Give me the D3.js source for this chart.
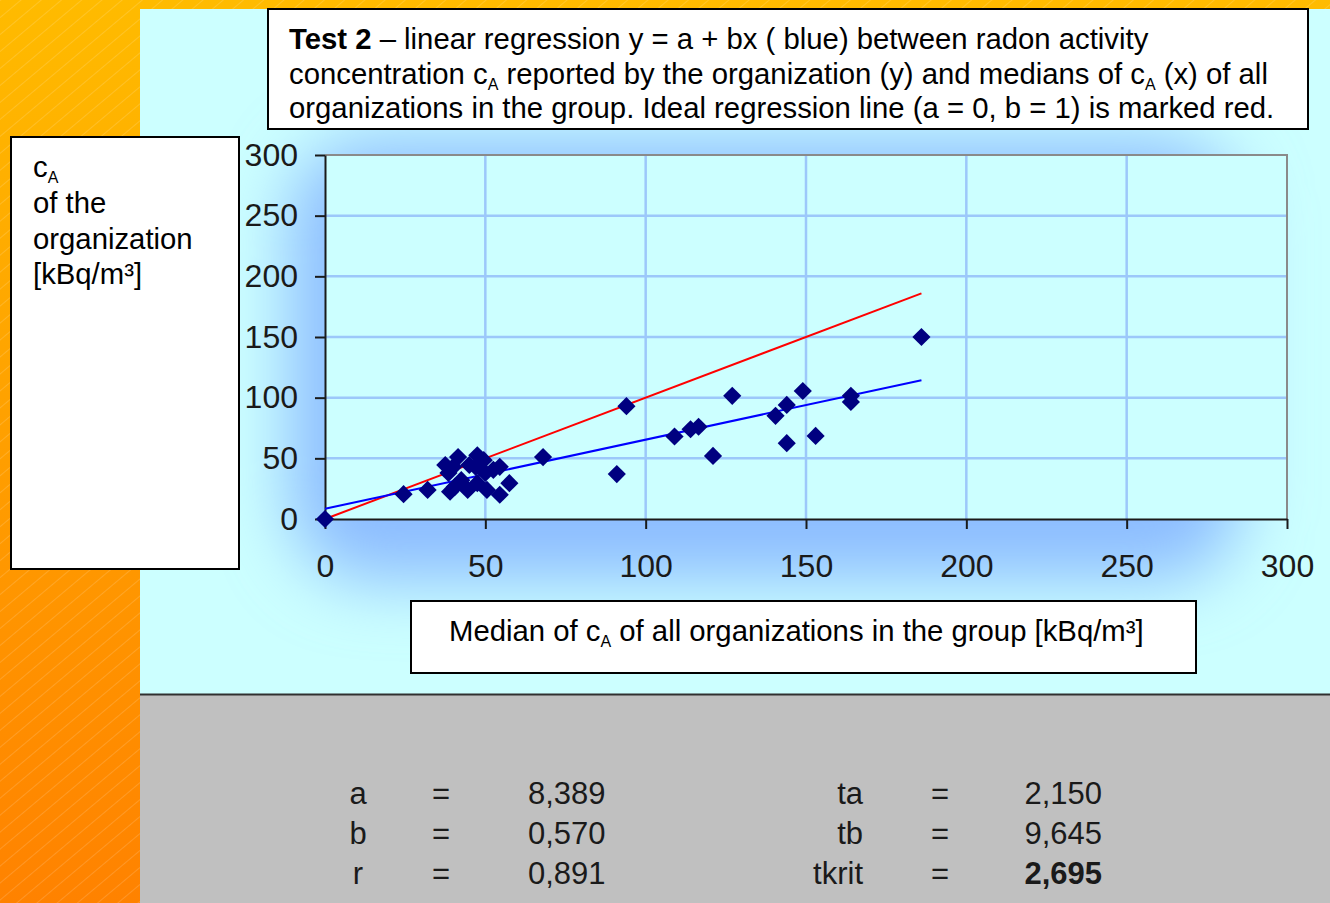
<!DOCTYPE html>
<html>
<head>
<meta charset="utf-8">
<script src="https://cdn.jsdelivr.net/npm/d3@7"></script>
<style>
body { margin: 0; overflow: hidden; background: #fff; }
text { font-family: "Liberation Sans", Arial, sans-serif; }
</style>
</head>
<body>
<script>
// medians of cA of all organizations (x) and cA of the organization (y)
var xValues = [0, 24.5, 32, 39, 37.5, 38.5, 40, 40.5, 41.5, 42.5, 44.5, 45, 47, 47.5, 47.5, 49.5,
    50, 50.5, 52.5, 54.5, 54.5, 57.5, 68, 91, 94, 109, 114, 116.5, 121, 127, 140.5, 144, 144,
    149, 153, 164, 164, 186];
var yValues = [0, 20.5, 24, 22.5, 44.5, 38, 43, 26.5, 51, 32, 24, 44.5, 43, 52.5, 29.5, 48.5,
    38, 24, 40.5, 43, 20, 29.5, 51, 37, 93, 68, 74, 76, 52, 101.5, 85, 94, 62.5,
    105.5, 68.5, 101.5, 96.5, 150];

var axisTicks = [0, 50, 100, 150, 200, 250, 300];

// regression y = a + bx
var regA = 8.389;
var regB = 0.570;

var statLeftNames = ['a', 'b', 'r'];
var statLeftValues = ['8,389', '0,570', '0,891'];
var statRightNames = ['ta', 'tb', 'tkrit'];
var statRightValues = ['2,150', '9,645', '2,695'];

function drawChart() {
    var width = 1330;
    var height = 903;
    var plot = {left: 325, top: 155, right: 1287, bottom: 519};

    var svg = d3.select('body').append('svg')
        .attr('width', width)
        .attr('height', height);

    var defs = svg.append('defs');

    var orange = defs.append('linearGradient')
        .attr('id', 'orange')
        .attr('x1', 0).attr('y1', 0).attr('x2', 0).attr('y2', 1);
    orange.append('stop').attr('offset', '0%').attr('stop-color', '#ffbb00');
    orange.append('stop').attr('offset', '100%').attr('stop-color', '#ff8200');

    var stripes = defs.append('pattern')
        .attr('id', 'stripes')
        .attr('patternUnits', 'userSpaceOnUse')
        .attr('width', 13).attr('height', 13)
        .attr('patternTransform', 'rotate(50)');
    stripes.append('line')
        .attr('x1', 0).attr('y1', 0).attr('x2', 0).attr('y2', 13)
        .attr('stroke', '#ffffff')
        .attr('stroke-opacity', 0.3)
        .attr('stroke-width', 1);

    defs.append('filter')
        .attr('id', 'glow')
        .attr('x', '-40%').attr('y', '-40%').attr('width', '180%').attr('height', '180%')
        .append('feGaussianBlur')
        .attr('stdDeviation', 34);

    defs.append('clipPath')
        .attr('id', 'panel')
        .append('rect')
        .attr('x', 140).attr('y', 9).attr('width', width - 140).attr('height', 685);

    // slide background
    svg.append('rect').attr('width', width).attr('height', height).attr('fill', 'url(#orange)');
    svg.append('rect').attr('width', width).attr('height', height).attr('fill', 'url(#stripes)');

    var panel = svg.append('g').attr('clip-path', 'url(#panel)');
    panel.append('rect')
        .attr('x', 140).attr('y', 9).attr('width', width - 140).attr('height', 685)
        .attr('fill', '#ccffff');
    panel.append('rect')
        .attr('x', 290).attr('y', 140)
        .attr('width', 950).attr('height', 440)
        .attr('rx', 80)
        .attr('fill', '#8cbcff')
        .attr('filter', 'url(#glow)');

    svg.append('rect')
        .attr('x', 140).attr('y', 694).attr('width', width - 140).attr('height', height - 694)
        .attr('fill', '#c0c0c0');
    svg.append('line')
        .attr('x1', 140).attr('x2', width).attr('y1', 694.5).attr('y2', 694.5)
        .attr('stroke', '#303030').attr('stroke-width', 2);

    var x = d3.scaleLinear().domain([0, 300]).range([plot.left, plot.right]);
    var y = d3.scaleLinear().domain([0, 300]).range([plot.bottom, plot.top]);

    svg.append('rect')
        .attr('x', plot.left).attr('y', plot.top)
        .attr('width', plot.right - plot.left).attr('height', plot.bottom - plot.top)
        .attr('fill', '#ccffff');

    var inner = axisTicks.slice(1, -1);
    svg.selectAll('.vgrid')
        .data(inner)
        .enter().append('line')
            .attr('class', 'vgrid')
            .attr('x1', function(d) { return x(d); })
            .attr('x2', function(d) { return x(d); })
            .attr('y1', plot.top)
            .attr('y2', plot.bottom)
            .attr('stroke', '#9cc8fa')
            .attr('stroke-width', 2.5);
    svg.selectAll('.hgrid')
        .data(inner)
        .enter().append('line')
            .attr('class', 'hgrid')
            .attr('x1', plot.left)
            .attr('x2', plot.right)
            .attr('y1', function(d) { return y(d); })
            .attr('y2', function(d) { return y(d); })
            .attr('stroke', '#9cc8fa')
            .attr('stroke-width', 2.5);

    // plot border top / right
    svg.append('path')
        .attr('d', 'M' + plot.left + ',' + plot.top + 'H' + plot.right + 'V' + plot.bottom)
        .attr('fill', 'none')
        .attr('stroke', '#8a8a8a')
        .attr('stroke-width', 2);

    var yAxis = svg.append('g')
        .attr('transform', 'translate(' + plot.left + ',0)')
        .call(d3.axisLeft(y).tickValues(axisTicks).tickSize(10).tickSizeOuter(0).tickPadding(17));
    var xAxis = svg.append('g')
        .attr('transform', 'translate(0,' + plot.bottom + ')')
        .call(d3.axisBottom(x).tickValues(axisTicks).tickSize(10).tickSizeOuter(0).tickPadding(25));

    [yAxis, xAxis].forEach(function(ax) {
        ax.select('.domain').attr('stroke', '#1a1a1a').attr('stroke-width', 2);
        ax.selectAll('.tick line').attr('stroke', '#1a1a1a').attr('stroke-width', 2);
        ax.selectAll('.tick text')
            .attr('fill', '#1a1a1a')
            .style('font-family', '"Liberation Sans", Arial, sans-serif')
            .style('font-size', '32px');
    });

    // ideal (red) and fitted (blue) lines
    var xMax = d3.max(xValues);
    var line = d3.line()
        .x(function(d) { return x(d[0]); })
        .y(function(d) { return y(d[1]); });

    svg.append('path')
        .datum([[0, 0], [xMax, xMax]])
        .attr('d', line)
        .attr('fill', 'none')
        .attr('stroke', '#ff0000')
        .attr('stroke-width', 2);
    svg.append('path')
        .datum([[0, regA], [xMax, regA + regB * xMax]])
        .attr('d', line)
        .attr('fill', 'none')
        .attr('stroke', '#0000ff')
        .attr('stroke-width', 2);

    var diamond = d3.symbol().type(d3.symbolSquare).size(165);
    svg.selectAll('.point')
        .data(xValues)
        .enter().append('path')
            .attr('class', 'point')
            .attr('d', diamond)
            .attr('transform', function(d, i) {
                return 'translate(' + x(d) + ',' + y(yValues[i]) + ') rotate(45)';
            })
            .attr('fill', '#000080');

    // text boxes
    function box(x0, y0, w, h) {
        svg.append('rect')
            .attr('x', x0).attr('y', y0).attr('width', w).attr('height', h)
            .attr('fill', '#ffffff')
            .attr('stroke', '#000000')
            .attr('stroke-width', 2);
    }

    // parts: plain strings, or {sub: 'A'} for a subscript
    function richText(x0, y0, parts) {
        var t = svg.append('text')
            .attr('x', x0).attr('y', y0)
            .style('font-size', '29.3px')
            .attr('fill', '#000');
        var low = false;
        parts.forEach(function(p) {
            var s = t.append('tspan');
            if (typeof p === 'string') {
                s.text(p);
                if (low) { s.attr('dy', -6); low = false; }
            } else if (p.sub) {
                s.attr('dy', 6).style('font-size', '16px').text(p.sub);
                low = true;
            } else if (p.bold) {
                s.style('font-weight', 'bold').text(p.bold);
            }
        });
        return t;
    }

    box(268, 9, 1040, 120);
    richText(289, 49, [{bold: 'Test 2'}, ' \u2013 linear regression y = a + bx ( blue) between radon activity']);
    richText(289, 84, ['concentration c', {sub: 'A'}, ' reported by the organization (y) and medians of c',
        {sub: 'A'}, ' (x) of all']);
    richText(289, 118, ['organizations in the group. Ideal regression line (a = 0, b = 1) is marked red.']);

    box(11, 137, 228, 432);
    richText(33, 177, ['c', {sub: 'A'}]);
    ['of the', 'organization', '[kBq/m\u00b3]'].forEach(function(s, i) {
        richText(33, 213 + i * 35.5, [s]);
    });

    box(411, 601, 785, 72);
    richText(449, 641, ['Median of c', {sub: 'A'}, ' of all organizations in the group [kBq/m\u00b3]']);

    // statistics table
    var rowY = function(i) { return 804 + i * 40; };
    var stat = svg.append('g').style('font-size', '31px').attr('fill', '#1a1a1a');
    stat.selectAll('.ln').data(statLeftNames).enter().append('text')
        .attr('x', 358).attr('y', function(d, i) { return rowY(i); })
        .attr('text-anchor', 'middle').text(function(d) { return d; });
    stat.selectAll('.le').data(statLeftNames).enter().append('text')
        .attr('x', 441).attr('y', function(d, i) { return rowY(i); })
        .attr('text-anchor', 'middle').text('=');
    stat.selectAll('.lv').data(statLeftValues).enter().append('text')
        .attr('x', 528).attr('y', function(d, i) { return rowY(i); })
        .text(function(d) { return d; });
    stat.selectAll('.rn').data(statRightNames).enter().append('text')
        .attr('x', 863).attr('y', function(d, i) { return rowY(i); })
        .attr('text-anchor', 'end').text(function(d) { return d; });
    stat.selectAll('.re').data(statRightNames).enter().append('text')
        .attr('x', 940).attr('y', function(d, i) { return rowY(i); })
        .attr('text-anchor', 'middle').text('=');
    stat.selectAll('.rv').data(statRightValues).enter().append('text')
        .attr('x', 1102).attr('y', function(d, i) { return rowY(i); })
        .attr('text-anchor', 'end')
        .style('font-weight', function(d, i) { return i === 2 ? 'bold' : 'normal'; })
        .text(function(d) { return d; });
}

drawChart();
</script>
</body>
</html>
